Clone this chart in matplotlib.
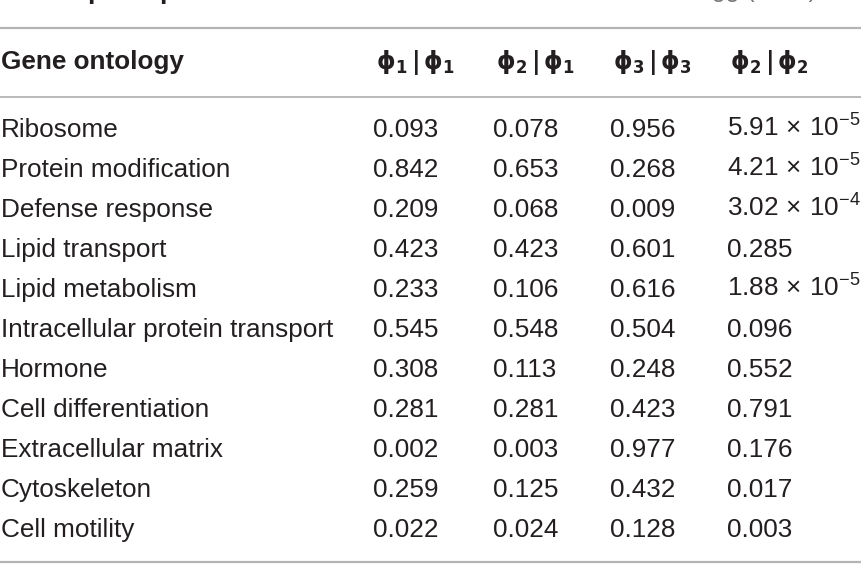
import matplotlib
matplotlib.use("Agg")
import matplotlib.pyplot as plt

# ============================================================
# Daten
# ============================================================

COL_HEADERS = [r"$\mathbf{\phi_1\,|\,\phi_1}$", r"$\mathbf{\phi_2\,|\,\phi_1}$",
               r"$\mathbf{\phi_3\,|\,\phi_3}$", r"$\mathbf{\phi_2\,|\,\phi_2}$"]

GENE_TERMS = [
    "Ribosome",
    "Protein modification",
    "Defense response",
    "Lipid transport",
    "Lipid metabolism",
    "Intracellular protein transport",
    "Hormone",
    "Cell differentiation",
    "Extracellular matrix",
    "Cytoskeleton",
    "Cell motility",
]

P_11 = ["0.093", "0.842", "0.209", "0.423", "0.233", "0.545", "0.308", "0.281", "0.002", "0.259", "0.022"]
P_21 = ["0.078", "0.653", "0.068", "0.423", "0.106", "0.548", "0.113", "0.281", "0.003", "0.125", "0.024"]
P_33 = ["0.956", "0.268", "0.009", "0.601", "0.616", "0.504", "0.248", "0.423", "0.977", "0.432", "0.128"]
P_22 = [r"$5.91\,\times\,10^{-5}$", r"$4.21\,\times\,10^{-5}$", r"$3.02\,\times\,10^{-4}$", "0.285",
        r"$1.88\,\times\,10^{-5}$", "0.096", "0.552", "0.791", "0.176", "0.017", "0.003"]

# ============================================================
# Layout
# ============================================================

W, H = 861, 565
TEXT_COL = "#231f20"
RULE_COL = "#b4b4b4"
FS = 18.8          # Schriftgröße Tabelle (pt)

plt.rcParams["font.family"] = ["Liberation Sans", "DejaVu Sans"]
plt.rcParams["mathtext.fontset"] = "custom"
plt.rcParams["mathtext.rm"] = "Liberation Sans"
plt.rcParams["mathtext.it"] = "Liberation Sans:italic"
plt.rcParams["mathtext.bf"] = "Liberation Sans:bold"

fig = plt.figure(figsize=(W / 100, H / 100), dpi=100)
ax = fig.add_axes([0, 0, 1, 1])
ax.set_xlim(0, W)
ax.set_ylim(H, 0)
ax.axis("off")

col_x = [373, 493, 610, 727]
row0 = 137
row_h = 40

# abgeschnittene Überschrift oben (nur Unterlängen sichtbar)
for xp in (87, 159):
    ax.text(xp, -1.5, "p", fontsize=19, fontweight="bold", color=TEXT_COL, va="baseline")
ax.text(673, -2.5, "Bragg (2011)", fontsize=18, color="#7a7a7a", va="baseline")

# Linien
ax.plot([0, W], [28, 28], color=RULE_COL, lw=1.6, solid_capstyle="butt")
ax.plot([0, W], [97, 97], color=RULE_COL, lw=1.3, solid_capstyle="butt")
ax.plot([0, W], [562, 562], color=RULE_COL, lw=1.6, solid_capstyle="butt")

# Kopfzeile
ax.text(1, 69, "Gene ontology", fontsize=FS, fontweight="bold", color=TEXT_COL, va="baseline")
for x, h in zip(col_x, COL_HEADERS):
    ax.text(x + 3, 69, h, fontsize=17, color=TEXT_COL, va="baseline", math_fontfamily="dejavusans")

# Zeilen
columns = [P_11, P_21, P_33, P_22]
for i, term in enumerate(GENE_TERMS):
    y = row0 + i * row_h
    ax.text(1, y, term, fontsize=FS, color=TEXT_COL, va="baseline")
    for x, col in zip(col_x, columns):
        ax.text(x, y, col[i], fontsize=FS, color=TEXT_COL, va="baseline")

fig.savefig("out.png", dpi=100)
